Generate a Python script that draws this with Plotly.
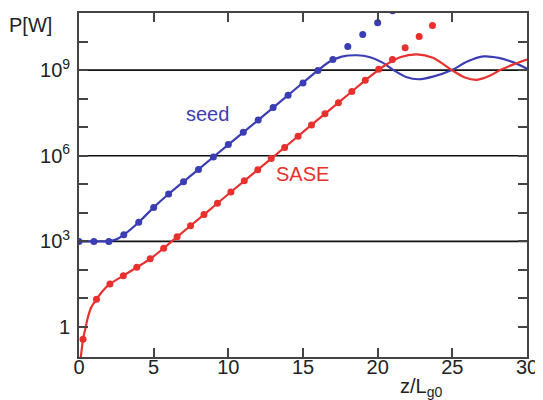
import plotly.graph_objects as go

# ---- data (log10 of power in W) ----
seed_dot_z = [0, 1, 2, 3, 4, 5, 6, 7, 8, 9, 10, 11, 12, 13, 14, 15, 16, 17, 18, 19, 20, 21]
seed_dot_log = [3.0, 3.0, 3.0, 3.23, 3.67, 4.19, 4.66, 5.09, 5.52, 5.96, 6.39, 6.82, 7.25,
                7.69, 8.12, 8.55, 8.99, 9.37, 9.83, 10.25, 10.66, 11.08]

sase_dot_z = [0.27, 1.17, 2.07, 2.97, 3.87, 4.77, 5.67, 6.57, 7.47, 8.37, 9.27, 10.17, 11.07,
              11.97, 12.87, 13.77, 14.67, 15.57, 16.47, 17.37, 18.27, 19.17, 20.07, 20.99,
              21.84, 22.78, 23.67]
sase_dot_log = [-0.43, 0.97, 1.51, 1.80, 2.09, 2.39, 2.76, 3.16, 3.55, 3.94, 4.34, 4.73, 5.12,
                5.51, 5.90, 6.29, 6.68, 7.08, 7.47, 7.86, 8.25, 8.64, 9.03, 9.37, 9.78,
                10.18, 10.56]

seed_line_z = [0, 1, 2, 2.5, 3, 4, 5, 6, 8, 10, 12, 14, 16, 16.8, 17.6, 18.6, 19.5, 20.3,
               21.06, 21.9, 22.74, 23.7, 24.97, 26.0, 27.1, 28.1, 29.1, 30]
seed_line_log = [3.0, 3.0, 3.01, 3.07, 3.23, 3.67, 4.19, 4.66, 5.52, 6.39, 7.25, 8.12, 8.99,
                 9.3, 9.47, 9.52, 9.45, 9.27, 9.0, 8.76, 8.68, 8.77, 9.0, 9.3, 9.48, 9.43,
                 9.27, 9.05]

sase_line_z = [0.12, 0.18, 0.27, 0.45, 0.6, 0.83, 1.17, 1.6, 2.07, 2.97, 3.87, 4.77, 5.67,
               6.57, 8.37, 10.17, 12.87, 15.57, 18.27, 19.5, 20.5, 21.5, 22.63, 23.7, 24.97,
               25.8, 26.65, 27.5, 28.2, 29.1, 30]
sase_line_log = [-1.06, -0.8, -0.43, 0.0, 0.35, 0.70, 0.97, 1.27, 1.51, 1.80, 2.09, 2.39, 2.76,
                 3.16, 3.94, 4.73, 5.90, 7.08, 8.25, 8.78, 9.17, 9.45, 9.55, 9.43, 9.0,
                 8.75, 8.66, 8.8, 9.0, 9.2, 9.37]

y_label_exp = [0, 3, 6, 9]
y_label_text = ["1", "10<sup>3</sup>", "10<sup>6</sup>", "10<sup>9</sup>"]
y_minor_exp = [1, 2, 4, 5, 7, 8, 10]
grid_exp = [3, 6, 9]
x_ticks = [0, 5, 10, 15, 20, 25, 30]

BLUE = "#3a3db3"
RED = "#e8312f"

def p(vals):
    return [10 ** v for v in vals]

fig = go.Figure()

fig.add_trace(go.Scatter(x=seed_line_z, y=p(seed_line_log), mode="lines",
                         line=dict(color=BLUE, width=2.2, shape="spline", smoothing=0.8),
                         showlegend=False, hoverinfo="skip"))
fig.add_trace(go.Scatter(x=sase_line_z, y=p(sase_line_log), mode="lines",
                         line=dict(color=RED, width=2.2, shape="spline", smoothing=0.8),
                         showlegend=False, hoverinfo="skip"))
fig.add_trace(go.Scatter(x=seed_dot_z, y=p(seed_dot_log), mode="markers",
                         marker=dict(color=BLUE, size=7), showlegend=False))
fig.add_trace(go.Scatter(x=sase_dot_z, y=p(sase_dot_log), mode="markers",
                         marker=dict(color=RED, size=7), showlegend=False))

for e in grid_exp:
    fig.add_shape(type="line", xref="paper", x0=0, x1=1, yref="y", y0=10 ** e, y1=10 ** e,
                  line=dict(color="#111111", width=1.6), layer="below")

font = dict(family="Liberation Sans, Arial, sans-serif", size=20, color="#222222")

# page body has an 8px margin, so the figure is made 8px smaller and shifted accordingly
fig.update_layout(
    width=535, height=392,
    margin=dict(l=71, r=16, t=3, b=43),
    paper_bgcolor="white", plot_bgcolor="white",
    font=font,
    xaxis=dict(range=[0, 30], tickvals=x_ticks, ticks="inside", ticklen=9, tickwidth=1.6,
               tickcolor="#444444", showline=True, linecolor="#444444", linewidth=1.8,
               mirror="ticks", showgrid=False, zeroline=False, tickfont=font,
               ticklabelstandoff=-9),
    yaxis=dict(type="log", range=[-1.05, 11.0], tickvals=[10 ** e for e in y_label_exp],
               ticktext=y_label_text, ticks="inside", ticklen=9, tickwidth=1.6,
               tickcolor="#444444", showline=True, linecolor="#444444", linewidth=1.8,
               mirror="ticks", showgrid=False, zeroline=False, tickfont=font,
               ticklabelstandoff=3,
               minor=dict(tickmode="array", tickvals=[10 ** e for e in y_minor_exp],
                          ticks="inside", ticklen=9, tickwidth=1.6, tickcolor="#444444",
                          showgrid=False)),
    annotations=[
        dict(text="seed", xref="paper", yref="paper", x=0.2859, y=0.7072, showarrow=False,
             xanchor="center", yanchor="middle",
             font=dict(family=font["family"], size=20, color=BLUE)),
        dict(text="SASE", xref="paper", yref="paper", x=0.4978, y=0.5315, showarrow=False,
             xanchor="center", yanchor="middle",
             font=dict(family=font["family"], size=20, color=RED)),
        dict(text="P[W]", xref="paper", yref="paper", x=-0.108, y=0.964, showarrow=False,
             xanchor="center", yanchor="middle", font=font),
        dict(text="z/L<sub>g0</sub>", xref="paper", yref="paper", x=0.712, y=-0.09,
             xanchor="left", yanchor="middle", showarrow=False, font=font),
    ],
)

fig.write_html("out.html")
